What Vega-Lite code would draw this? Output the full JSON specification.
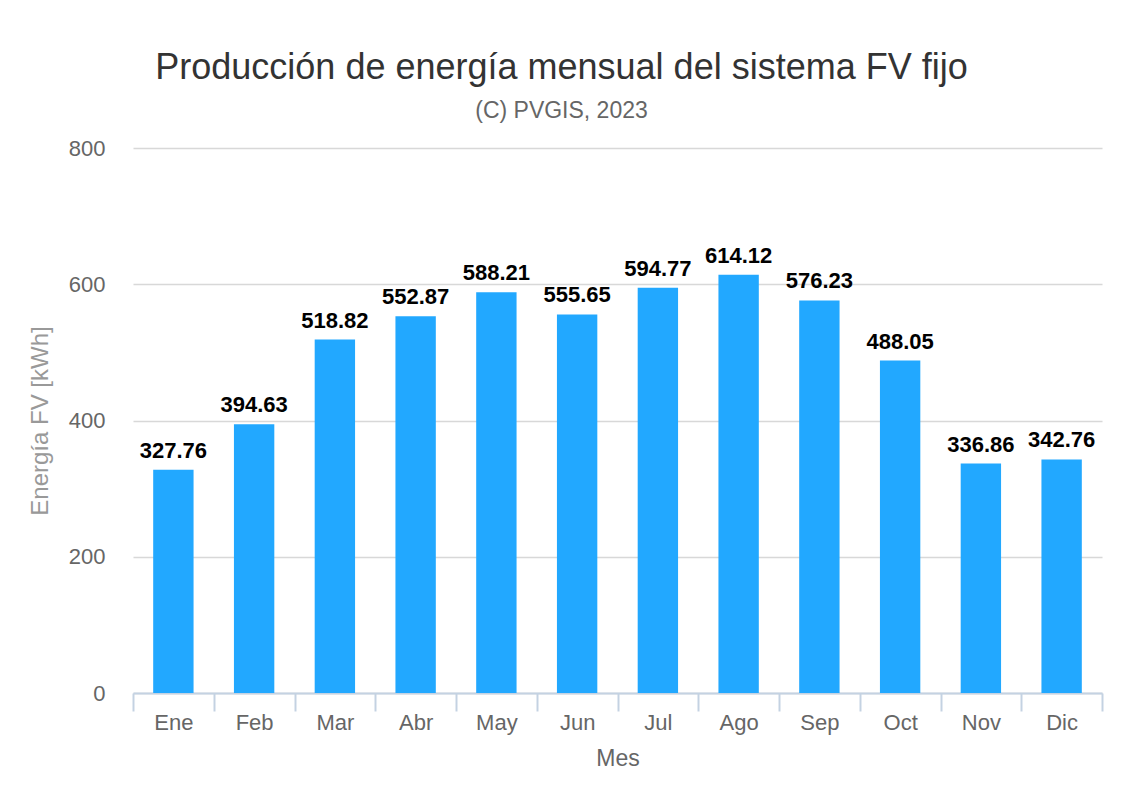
{
  "$schema": "https://vega.github.io/schema/vega-lite/v6.json",
  "autosize": "none",
  "width": 969,
  "height": 545,
  "padding": {"left": 133, "top": 148, "right": 20, "bottom": 107},
  "background": "white",
  "title": {
    "text": "Producción de energía mensual del sistema FV fijo",
    "subtitle": "(C) PVGIS, 2023",
    "font": "Liberation Sans",
    "subtitleFont": "Liberation Sans",
    "fontSize": 36,
    "fontWeight": "normal",
    "color": "#333333",
    "subtitleFontSize": 23,
    "subtitleColor": "#666666",
    "subtitlePadding": 13,
    "anchor": "middle",
    "dx": -56,
    "offset": 13
  },
  "config": {
    "view": {"stroke": null},
    "font": "Liberation Sans"
  },
  "data": {
    "values": [
      {"mes": "Ene", "e": 327.76},
      {"mes": "Feb", "e": 394.63},
      {"mes": "Mar", "e": 518.82},
      {"mes": "Abr", "e": 552.87},
      {"mes": "May", "e": 588.21},
      {"mes": "Jun", "e": 555.65},
      {"mes": "Jul", "e": 594.77},
      {"mes": "Ago", "e": 614.12},
      {"mes": "Sep", "e": 576.23},
      {"mes": "Oct", "e": 488.05},
      {"mes": "Nov", "e": 336.86},
      {"mes": "Dic", "e": 342.76}
    ]
  },
  "encoding": {
    "x": {
      "field": "mes",
      "type": "nominal",
      "sort": null,
      "scale": {"paddingInner": 0, "paddingOuter": 0},
      "axis": {
        "title": "Mes",
        "titleFont": "Liberation Sans",
        "titleFontSize": 23,
        "titleFontWeight": "normal",
        "titleColor": "#666666",
        "titlePadding": 14,
        "labelAngle": 0,
        "labelFontSize": 22,
        "labelColor": "#666666",
        "labelPadding": 1,
        "tickBand": "extent",
        "tickSize": 18,
        "tickColor": "#C4D2E2",
        "domainColor": "#C4D2E2",
        "domainWidth": 2,
        "tickWidth": 2,
        "grid": false
      }
    },
    "y": {
      "field": "e",
      "type": "quantitative",
      "scale": {"domain": [0, 800]},
      "axis": {
        "title": "Energía FV [kWh]",
        "titleFont": "Liberation Sans",
        "titleFontSize": 24,
        "titleFontWeight": "normal",
        "titleColor": "#999999",
        "titlePadding": 16,
        "values": [0, 200, 400, 600, 800],
        "labelFontSize": 22,
        "labelColor": "#666666",
        "labelPadding": 28,
        "ticks": false,
        "domain": false,
        "gridColor": "#D8D8D8",
        "gridWidth": 1.5
      }
    }
  },
  "layer": [
    {"mark": {"type": "bar", "color": "#22A8FF", "width": {"band": 0.5}}},
    {
      "mark": {
        "type": "text",
        "dy": -19,
        "fontSize": 22,
        "fontWeight": "bold",
        "color": "#000000",
        "letterSpacing": 2
      },
      "encoding": {"text": {"field": "e", "type": "quantitative", "format": ".2f"}}
    }
  ]
}
